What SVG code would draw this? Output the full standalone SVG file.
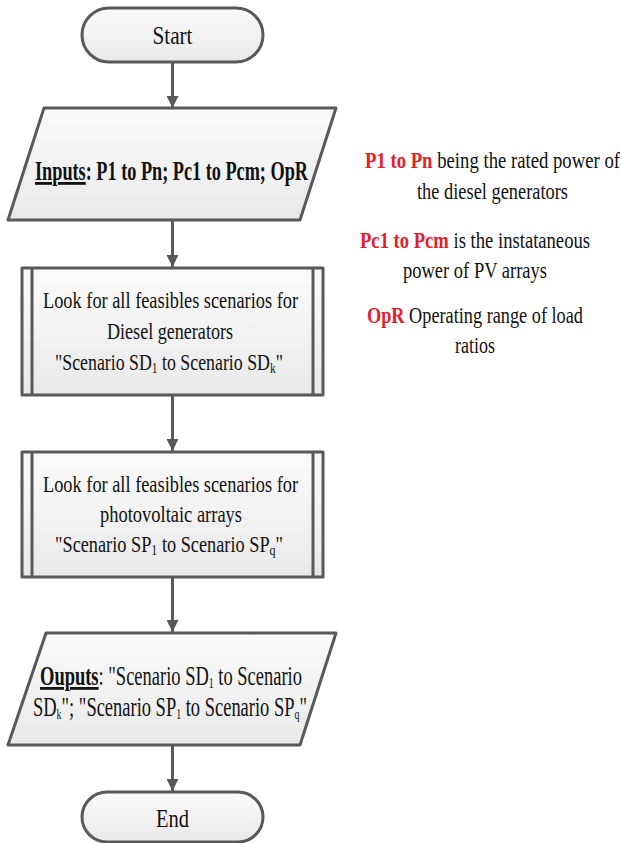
<svg xmlns="http://www.w3.org/2000/svg" width="621" height="843" viewBox="0 0 621 843" font-family="'Liberation Serif', 'Times New Roman', serif">
<style>
.shape{fill:url(#g);stroke:#595959;stroke-width:3;stroke-linejoin:round}
.inner{stroke:#595959;stroke-width:3}
.conn{stroke:#595959;stroke-width:3;fill:none;marker-end:url(#ah)}
text{font-family:'Liberation Serif','Times New Roman',serif;fill:#111}
.t{font-size:23px}
.big{font-size:28px}
.term{font-size:25px}
.red{fill:#e3202b;font-weight:bold}
.b{font-weight:bold}
.u{text-decoration:underline}
.sub{font-size:15px}
</style>
<defs>
<linearGradient id="g" x1="0" y1="0" x2="0" y2="1">
<stop offset="0" stop-color="#fbfbfb"/>
<stop offset="1" stop-color="#e9e9e9"/>
</linearGradient>
<marker id="ah" viewBox="0 0 12 12" refX="12" refY="6" markerWidth="12" markerHeight="12" markerUnits="userSpaceOnUse" orient="auto">
<path d="M0,0 L12,6 L0,12 Z" fill="#595959"/>
</marker>
</defs>
<g id="connectors">
<line class="conn" x1="172.5" y1="62" x2="172.5" y2="108"/>
<line class="conn" x1="172.5" y1="220" x2="172.5" y2="267"/>
<line class="conn" x1="172.5" y1="395" x2="172.5" y2="451"/>
<line class="conn" x1="172.5" y1="577" x2="172.5" y2="632"/>
<line class="conn" x1="172.5" y1="745" x2="172.5" y2="791"/>
</g>
<g id="start">
<rect class="shape" x="82" y="8" width="181" height="54" rx="27"/>
<text class="term" x="172.5" y="44" text-anchor="middle" textLength="40" lengthAdjust="spacingAndGlyphs">Start</text>
</g>
<g id="inputs">
<polygon class="shape" points="44,108 336,108 300,220 8,220"/>
<text class="big b" x="35" y="180" textLength="273" lengthAdjust="spacingAndGlyphs"><tspan class="u">Inputs</tspan>: P1 to Pn; Pc1 to Pcm; OpR</text>
</g>
<g id="diesel">
<rect class="shape" x="22" y="268" width="301" height="127"/>
<line class="inner" x1="32" y1="268" x2="32" y2="395"/>
<line class="inner" x1="313" y1="268" x2="313" y2="395"/>
<text class="t" x="43" y="308" textLength="255" lengthAdjust="spacingAndGlyphs">Look for all feasibles scenarios for</text>
<text class="t" x="107" y="339" textLength="126" lengthAdjust="spacingAndGlyphs">Diesel generators</text>
<text class="t" x="55" y="370" textLength="228" lengthAdjust="spacingAndGlyphs">"Scenario SD<tspan class="sub" dy="3">1</tspan><tspan dy="-3"> to Scenario SD</tspan><tspan class="sub" dy="3">k</tspan><tspan dy="-3">"</tspan></text>
</g>
<g id="pv">
<rect class="shape" x="22" y="452" width="301" height="125"/>
<line class="inner" x1="32" y1="452" x2="32" y2="577"/>
<line class="inner" x1="313" y1="452" x2="313" y2="577"/>
<text class="t" x="43" y="492" textLength="255" lengthAdjust="spacingAndGlyphs">Look for all feasibles scenarios for</text>
<text class="t" x="100" y="522" textLength="142" lengthAdjust="spacingAndGlyphs">photovoltaic arrays</text>
<text class="t" x="55" y="552" textLength="228" lengthAdjust="spacingAndGlyphs">"Scenario SP<tspan class="sub" dy="3">1</tspan><tspan dy="-3"> to Scenario SP</tspan><tspan class="sub" dy="3">q</tspan><tspan dy="-3">"</tspan></text>
</g>
<g id="outputs">
<polygon class="shape" points="46,633 336,633 300,745 8,745"/>
<text class="big" x="40" y="685" textLength="262" lengthAdjust="spacingAndGlyphs"><tspan class="b u">Ouputs</tspan>: "Scenario SD<tspan class="sub" dy="3">1</tspan><tspan dy="-3"> to Scenario</tspan></text>
<text class="big" x="33" y="716" textLength="274" lengthAdjust="spacingAndGlyphs">SD<tspan class="sub" dy="3">k</tspan><tspan dy="-3">"; "Scenario SP</tspan><tspan class="sub" dy="3">1</tspan><tspan dy="-3"> to Scenario SP</tspan><tspan class="sub" dy="3">q</tspan><tspan dy="-3">"</tspan></text>
</g>
<g id="end">
<rect class="shape" x="82" y="792" width="181" height="50" rx="25"/>
<text class="term" x="172.5" y="827" text-anchor="middle" textLength="33" lengthAdjust="spacingAndGlyphs">End</text>
</g>
<g id="legend">
<text class="t" x="365" y="168" textLength="255" lengthAdjust="spacingAndGlyphs"><tspan class="red">P1 to Pn</tspan> being the rated power of</text>
<text class="t" x="417" y="199" textLength="151" lengthAdjust="spacingAndGlyphs">the diesel generators</text>
<text class="t" x="360" y="248" textLength="230" lengthAdjust="spacingAndGlyphs"><tspan class="red">Pc1 to Pcm</tspan> is the instataneous</text>
<text class="t" x="403" y="278" textLength="144" lengthAdjust="spacingAndGlyphs">power of PV arrays</text>
<text class="t" x="367" y="323" textLength="216" lengthAdjust="spacingAndGlyphs"><tspan class="red">OpR</tspan> Operating range of load</text>
<text class="t" x="455" y="353" textLength="40" lengthAdjust="spacingAndGlyphs">ratios</text>
</g>
</svg>
